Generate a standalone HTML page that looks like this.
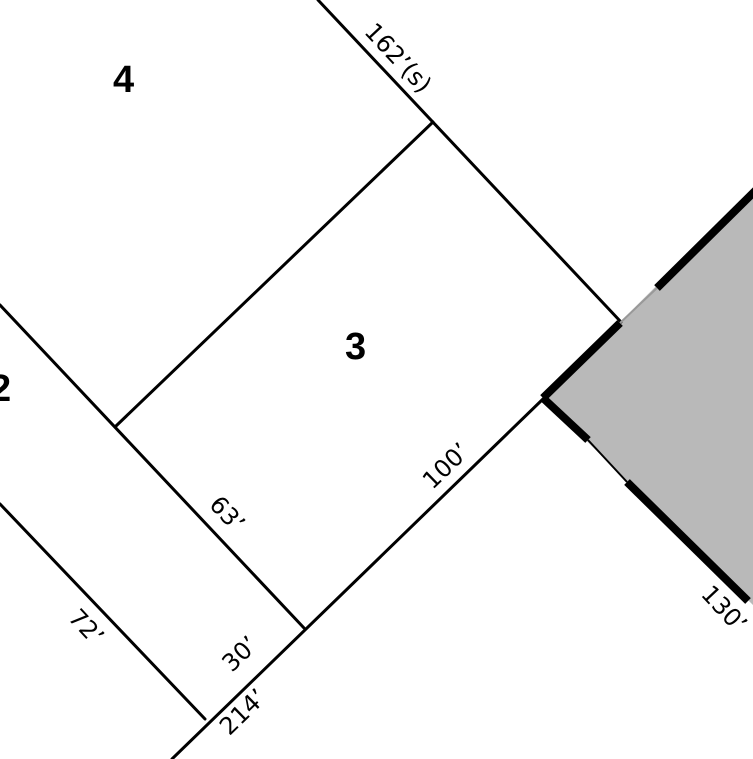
<!DOCTYPE html>
<html><head><meta charset="utf-8"><style>
html,body{margin:0;padding:0;background:#fff;width:753px;height:759px;overflow:hidden}
svg{display:block}
.l{font-family:"DejaVu Sans","Liberation Sans",sans-serif;font-size:24px;font-weight:normal;fill:#000}
.n{font-family:"Liberation Sans",sans-serif;font-size:38px;font-weight:bold;fill:#000}
</style></head><body>
<svg width="753" height="759" viewBox="0 0 753 759">
<polygon points="543,398 621,321 753,190 753,605" fill="#b9b9b9"/>
<g stroke="#000" stroke-width="3" fill="none" stroke-linecap="round">
<line x1="318" y1="0" x2="621" y2="322"/>
<line x1="116" y1="426" x2="433" y2="122"/>
<line x1="0" y1="305" x2="304" y2="628"/>
<line x1="0" y1="504" x2="205" y2="719"/>
<line x1="172" y1="759" x2="543" y2="399"/>
</g>
<g stroke="#000" stroke-width="8" fill="none">
<line x1="543" y1="398" x2="620" y2="323"/>
<line x1="657" y1="288" x2="756" y2="190"/>
<line x1="543" y1="398" x2="588" y2="440"/>
<line x1="627" y1="482" x2="748" y2="601"/>
</g>
<line x1="620" y1="323" x2="657" y2="288" stroke="#999" stroke-width="2"/>
<line x1="588" y1="440" x2="627" y2="482" stroke="#000" stroke-width="2"/>
<text class="n" x="113" y="92">4</text>
<text class="n" x="345" y="359">3</text>
<text class="n" x="-10" y="401">2</text>
<text class="l" transform="translate(398,58) rotate(47)" text-anchor="middle" dy="8">162’(s)</text>
<text class="l" transform="translate(446,466) rotate(-44)" text-anchor="middle" dy="8">100’</text>
<text class="l" transform="translate(227,514) rotate(47)" text-anchor="middle" dy="8">63’</text>
<text class="l" transform="translate(86,627) rotate(47)" text-anchor="middle" dy="8">72’</text>
<text class="l" transform="translate(240,654) rotate(-44)" text-anchor="middle" dy="8">30’</text>
<text class="l" transform="translate(243,712) rotate(-44)" text-anchor="middle" dy="8">214’</text>
<text class="l" transform="translate(724,609) rotate(47)" text-anchor="middle" dy="8">130’</text>
</svg>
</body></html>
